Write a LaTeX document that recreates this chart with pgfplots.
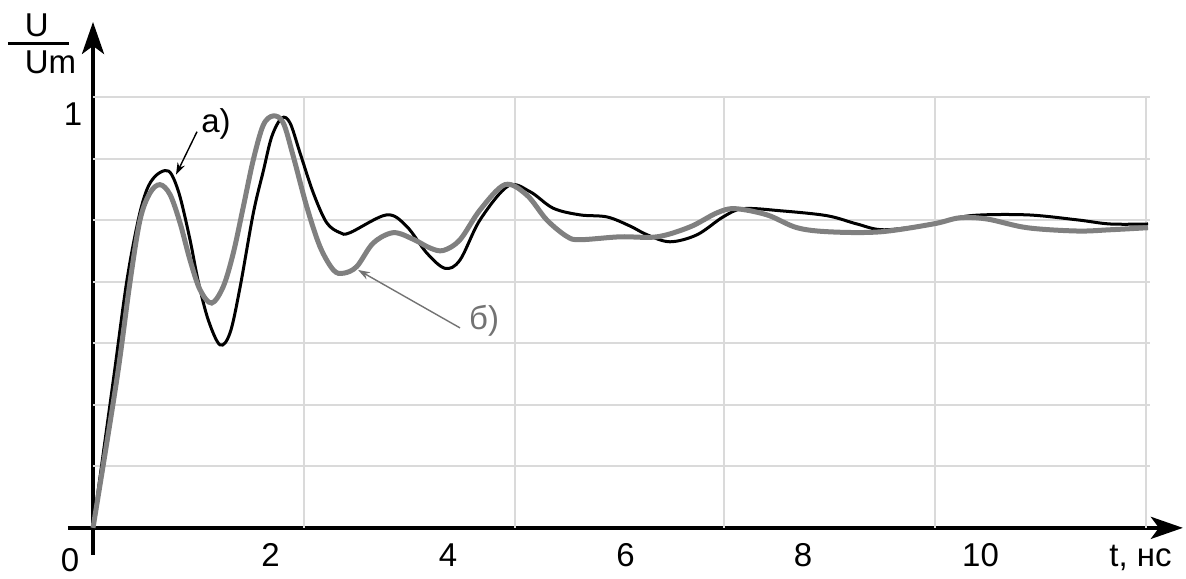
\documentclass[border=0pt]{standalone}
\usepackage{pgfplots}
\pgfplotsset{compat=1.18}
\usepackage{fontspec}
\setmainfont{Liberation Sans}
\usetikzlibrary{arrows.meta}
\definecolor{gridc}{RGB}{218,218,218}
\definecolor{curveb}{RGB}{128,128,128}
\definecolor{labelb}{RGB}{115,115,115}

\begin{document}
\begin{tikzpicture}
\begin{axis}[
  x=44.375pt, y=207pt,
  xmin=-0.282, xmax=12.28, ymin=-0.065, ymax=1.222,
  axis lines=middle,
  axis line style={line width=2pt, -{Stealth[length=16pt,width=11pt,inset=4pt]}},
  xtick={2,4,6,8,10}, ytick={1},
  tick style={draw=none}, major tick length=0pt,
  tick label style={font=\fontsize{16.5}{19}\selectfont},
  /pgf/number format/assume math mode=true,
  xticklabel style={anchor=base, yshift=-19.5pt},
  yticklabel style={anchor=east, xshift=-1.8pt},
  clip=false,
]
% bounding box matching the reference proportions
\path (axis cs:-1.048,-0.1087) rectangle (axis cs:12.315,1.275);

% grid
\draw[gridc, line width=0.75pt] (axis cs:0,1.041) -- (axis cs:11.91,1.041);
\draw[gridc, line width=0.75pt] (axis cs:0,0.891) -- (axis cs:11.91,0.891);
\draw[gridc, line width=0.75pt] (axis cs:0,0.744) -- (axis cs:11.91,0.744);
\draw[gridc, line width=0.75pt] (axis cs:0,0.594) -- (axis cs:11.91,0.594);
\draw[gridc, line width=0.75pt] (axis cs:0,0.447) -- (axis cs:11.91,0.447);
\draw[gridc, line width=0.75pt] (axis cs:0,0.297) -- (axis cs:11.91,0.297);
\draw[gridc, line width=0.75pt] (axis cs:0,0.150) -- (axis cs:11.91,0.150);
\draw[gridc, line width=0.75pt] (axis cs:2.377,0) -- (axis cs:2.377,1.041);
\draw[gridc, line width=0.75pt] (axis cs:4.755,0) -- (axis cs:4.755,1.041);
\draw[gridc, line width=0.75pt] (axis cs:7.110,0) -- (axis cs:7.110,1.041);
\draw[gridc, line width=0.75pt] (axis cs:9.487,0) -- (axis cs:9.487,1.041);
\draw[gridc, line width=0.75pt] (axis cs:11.865,0) -- (axis cs:11.865,1.041);

% curve a)
\addplot[black, line width=1.5pt, smooth, tension=0.55] coordinates {
(0,0) (0.229,0.357) (0.380,0.595) (0.510,0.744) (0.605,0.816) (0.699,0.849)
(0.811,0.863) (0.887,0.853) (0.980,0.800) (1.093,0.696) (1.186,0.595)
(1.299,0.502) (1.431,0.442) (1.544,0.471) (1.656,0.580)
(1.806,0.760) (1.919,0.862) (2.014,0.945) (2.126,0.990) (2.220,0.978)
(2.332,0.906) (2.482,0.809) (2.633,0.737) (2.783,0.713) (2.896,0.713)
(3.309,0.756) (3.535,0.728) (3.760,0.664) (3.966,0.627) (4.135,0.647)
(4.361,0.744) (4.679,0.826) (4.924,0.812) (5.186,0.772) (5.487,0.756)
(5.792,0.751) (6.051,0.729) (6.242,0.708) (6.501,0.691) (6.806,0.708)
(7.099,0.751) (7.324,0.771) (7.741,0.766) (8.270,0.754) (8.608,0.734)
(8.913,0.720) (9.465,0.734) (9.882,0.754) (10.524,0.756) (11.087,0.744)
(11.459,0.734) (11.887,0.734)
};

% curve б)
\addplot[curveb, line width=2.5pt, smooth, tension=0.55] coordinates {
(0,0) (0.267,0.357) (0.417,0.594) (0.530,0.744) (0.642,0.809) (0.755,0.829)
(0.868,0.805) (0.980,0.737) (1.093,0.647) (1.206,0.575) (1.337,0.543)
(1.468,0.583) (1.581,0.664) (1.694,0.776) (1.806,0.889) (1.919,0.973)
(2.032,0.995) (2.144,0.978) (2.257,0.897) (2.408,0.776) (2.558,0.679)
(2.708,0.623) (2.820,0.615) (2.971,0.631) (3.158,0.688) (3.384,0.713)
(3.609,0.697) (3.797,0.676) (3.947,0.670) (4.135,0.696) (4.361,0.768)
(4.642,0.829) (4.887,0.804) (5.112,0.744) (5.338,0.704) (5.487,0.696)
(5.938,0.703) (6.355,0.703) (6.727,0.727) (7.031,0.761) (7.234,0.771)
(7.594,0.756) (7.932,0.725) (8.304,0.715) (8.868,0.715) (9.465,0.734)
(9.769,0.749) (10.073,0.746) (10.524,0.725) (11.087,0.717) (11.459,0.720)
(11.887,0.725)
};

% labels
\node[anchor=center, font=\fontsize{16.5}{19}\selectfont] at (axis cs:-0.259,-0.077) {0};
\node[anchor=base west, inner sep=0pt, font=\fontsize{16.5}{19}\selectfont] at (axis cs:11.448,-0.0942) {t, нс};
\node[anchor=base west, inner sep=0pt, font=\fontsize{16.5}{19}\selectfont] at (axis cs:-0.772,1.186) {U};
\node[anchor=base west, inner sep=0pt, font=\fontsize{16.5}{19}\selectfont] at (axis cs:-0.772,1.097) {Um};
\draw[black, line width=1.5pt] (axis cs:-0.958,1.171) -- (axis cs:-0.270,1.171);

\node[anchor=base, inner sep=0pt, font=\fontsize{16.5}{19}\selectfont] at (axis cs:1.386,0.954) {а)};
\draw[black, line width=0.7pt, -{Stealth[length=6pt,width=4pt]}] (axis cs:1.172,0.957) -- (axis cs:0.935,0.853);
\node[anchor=base, inner sep=0pt, text=labelb, font=\fontsize{16.5}{19}\selectfont] at (axis cs:4.406,0.478) {б)};
\draw[labelb, line width=0.7pt, -{Stealth[length=6pt,width=4pt]}] (axis cs:4.135,0.483) -- (axis cs:2.986,0.623);
\end{axis}
\end{tikzpicture}
\end{document}
